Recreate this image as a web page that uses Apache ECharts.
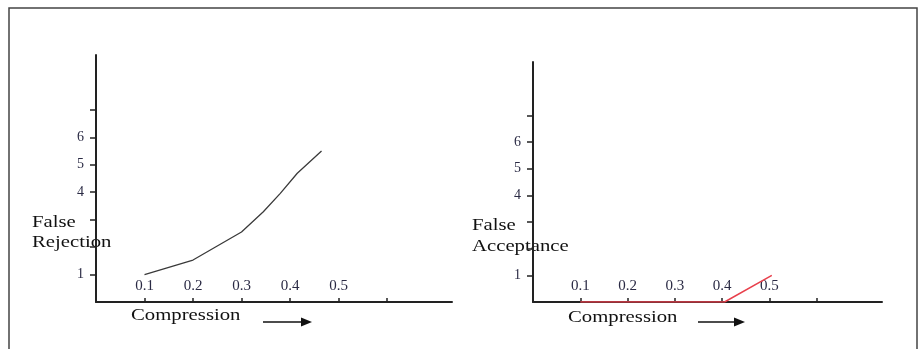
<!DOCTYPE html>
<html>
<head>
<meta charset="utf-8">
<script src="https://cdn.jsdelivr.net/npm/echarts@6/dist/echarts.min.js"></script>
<style>
  html, body { margin: 0; padding: 0; background: #fff; }
  #main { width: 922px; height: 349px; }
</style>
</head>
<body>
<div id="main"></div>
<script>
// 刻度
const xTickVals = [0.1, 0.2, 0.3, 0.4, 0.5, 0.6];
const xLabelVals = [0.1, 0.2, 0.3, 0.4, 0.5];
const yTickVals = [1, 2, 3, 4, 5, 6, 7];
const yLabelVals = [1, 4, 5, 6];
// 左图 False Rejection
const rejectX = [0.1, 0.2, 0.3, 0.345, 0.38, 0.415, 0.465];
const rejectY = [1.0, 1.53, 2.55, 3.29, 3.96, 4.69, 5.5];
// 右图 False Acceptance
const acceptX = [0.1, 0.2, 0.3, 0.405, 0.505];
const acceptY = [0, 0, 0, 0, 1];

const serif = '"Liberation Serif", "DejaVu Serif", serif';
const chart = echarts.init(document.getElementById('main'), null, { renderer: 'canvas' });

function pairs(xs, ys) {
  return xs.map((x, i) => [x, ys[i]]);
}

function xAxisOf(idx, max) {
  return {
    type: 'value', gridIndex: idx, min: 0, max: max,
    axisLine: { show: true, lineStyle: { color: '#222', width: 2 } },
    axisTick: { show: true, inside: true, length: 4, customValues: xTickVals, lineStyle: { color: '#222', width: 1.5 } },
    axisLabel: { show: true, inside: true, margin: 8, customValues: xLabelVals,
      fontFamily: serif, fontSize: 15, color: '#2a2a44' },
    splitLine: { show: false }
  };
}

function yAxisOf(idx) {
  return {
    type: 'value', gridIndex: idx, min: 0, max: 9,
    axisLine: { show: true, lineStyle: { color: '#222', width: 2 } },
    axisTick: { show: true, length: 6, customValues: yTickVals, lineStyle: { color: '#222', width: 1.5 } },
    axisLabel: { show: true, margin: 12, customValues: yLabelVals,
      fontFamily: serif, fontSize: 14, color: '#2a2a44' },
    splitLine: { show: false }
  };
}

function label(x, y, text, lh) {
  return {
    type: 'text', x: x, y: y, scaleX: 1.22,
    style: { text: text, font: '17px ' + serif, fill: '#111', verticalAlign: 'top', lineHeight: lh }
  };
}

function arrow(x1, x2, y) {
  return [
    { type: 'line', shape: { x1: x1, y1: y, x2: x2 - 9, y2: y }, style: { stroke: '#111', lineWidth: 1.5 } },
    { type: 'polygon', shape: { points: [[x2 - 11, y - 4.5], [x2, y], [x2 - 11, y + 4.5]] }, style: { fill: '#111' } }
  ];
}

const option = {
  animation: false,
  backgroundColor: '#fff',
  grid: [
    { left: 96, top: 55, width: 356, height: 247 },
    { left: 533, top: 62, width: 349, height: 240 }
  ],
  xAxis: [xAxisOf(0, 0.734), xAxisOf(1, 0.738)],
  yAxis: [yAxisOf(0), yAxisOf(1)],
  series: [
    {
      type: 'line', xAxisIndex: 0, yAxisIndex: 0, showSymbol: false,
      lineStyle: { color: '#3a3a3a', width: 1.3 },
      data: pairs(rejectX, rejectY)
    },
    {
      type: 'line', xAxisIndex: 1, yAxisIndex: 1, showSymbol: false,
      lineStyle: { color: '#e8404c', width: 1.5 },
      data: pairs(acceptX, acceptY)
    }
  ],
  graphic: [
    // 外框
    { type: 'rect', shape: { x: 9, y: 8, width: 908, height: 360 }, style: { fill: 'none', stroke: '#444', lineWidth: 1.5 } },
    label(32, 213, 'False\nRejection', 20),
    label(472, 215, 'False\nAcceptance', 21),
    label(131, 306, 'Compression', 20),
    label(568, 308, 'Compression', 20)
  ].concat(arrow(263, 312, 322), arrow(698, 745, 322))
};

chart.setOption(option);
</script>
</body>
</html>
